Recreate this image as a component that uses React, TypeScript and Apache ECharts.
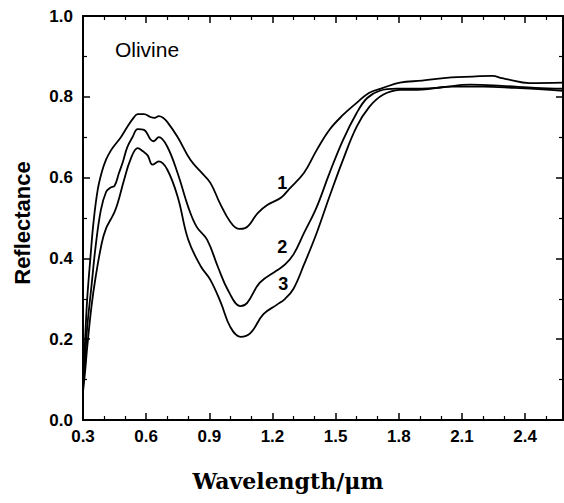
import React, { useEffect, useRef } from "react";
import * as echarts from "echarts";

// Curve 1 (top)
const wl1 = [0.30, 0.31, 0.32, 0.335, 0.35, 0.37, 0.39, 0.41, 0.43, 0.45, 0.48, 0.51, 0.54, 0.56, 0.59, 0.62, 0.64, 0.66, 0.68, 0.70, 0.75, 0.81, 0.86, 0.905, 0.95, 1.00, 1.04, 1.07, 1.13, 1.175, 1.24, 1.28, 1.35, 1.41, 1.47, 1.535, 1.60, 1.66, 1.725, 1.805, 1.91, 2.05, 2.15, 2.245, 2.29, 2.31, 2.42, 2.58];
const refl1 = [0.09, 0.20, 0.30, 0.40, 0.49, 0.57, 0.615, 0.645, 0.665, 0.68, 0.70, 0.725, 0.748, 0.757, 0.757, 0.75, 0.748, 0.752, 0.748, 0.738, 0.70, 0.644, 0.614, 0.587, 0.537, 0.49, 0.473, 0.475, 0.512, 0.532, 0.55, 0.572, 0.612, 0.668, 0.718, 0.755, 0.785, 0.81, 0.822, 0.835, 0.84, 0.848, 0.85, 0.852, 0.846, 0.844, 0.834, 0.835];

// Curve 2
const wl2 = [0.30, 0.31, 0.32, 0.34, 0.36, 0.385, 0.41, 0.43, 0.45, 0.47, 0.49, 0.51, 0.535, 0.56, 0.59, 0.62, 0.635, 0.66, 0.70, 0.75, 0.80, 0.84, 0.89, 0.94, 0.99, 1.048, 1.08, 1.14, 1.22, 1.26, 1.30, 1.35, 1.41, 1.47, 1.535, 1.60, 1.65, 1.71, 1.79, 1.91, 2.00, 2.14, 2.29, 2.45, 2.58];
const refl2 = [0.08, 0.15, 0.23, 0.33, 0.43, 0.52, 0.565, 0.575, 0.58, 0.61, 0.64, 0.675, 0.70, 0.72, 0.718, 0.695, 0.69, 0.70, 0.677, 0.61, 0.527, 0.478, 0.446, 0.38, 0.32, 0.282, 0.29, 0.34, 0.37, 0.385, 0.41, 0.463, 0.527, 0.61, 0.693, 0.76, 0.797, 0.815, 0.82, 0.82, 0.823, 0.83, 0.827, 0.822, 0.82];

// Curve 3 (bottom)
const wl3 = [0.30, 0.31, 0.32, 0.34, 0.36, 0.39, 0.41, 0.43, 0.45, 0.465, 0.495, 0.525, 0.56, 0.585, 0.607, 0.63, 0.66, 0.70, 0.75, 0.80, 0.86, 0.905, 0.955, 1.00, 1.048, 1.095, 1.157, 1.22, 1.26, 1.30, 1.35, 1.41, 1.47, 1.535, 1.60, 1.66, 1.725, 1.805, 1.91, 2.05, 2.20, 2.35, 2.50, 2.58];
const refl3 = [0.07, 0.12, 0.18, 0.28, 0.354, 0.44, 0.475, 0.495, 0.515, 0.537, 0.594, 0.644, 0.673, 0.665, 0.655, 0.632, 0.64, 0.62, 0.552, 0.446, 0.38, 0.347, 0.29, 0.23, 0.206, 0.215, 0.262, 0.285, 0.30, 0.325, 0.385, 0.463, 0.552, 0.644, 0.726, 0.775, 0.805, 0.817, 0.818, 0.825, 0.825, 0.822, 0.818, 0.815];

// Curve number labels
const curveNames = ["1", "2", "3"];
const labelWl = [1.246, 1.246, 1.251];
const labelRefl = [0.587, 0.428, 0.337];

const xTickStep = 0.3;
const yTickStep = 0.2;

const pairs = (xs: number[], ys: number[]) => xs.map((x, i) => [x, ys[i]]);

export default function App() {
  const ref = useRef<HTMLDivElement>(null);
  useEffect(() => {
    if (!ref.current) return;
    const chart = echarts.init(ref.current, null, { renderer: "svg" });
    const tickFont = {
      color: "#000",
      fontFamily: "Liberation Sans, Arial, sans-serif",
      fontWeight: "bold" as const,
      fontSize: 17,
    };
    const axisLine = { show: true, onZero: false, lineStyle: { color: "#000", width: 2 } };
    const xBase = {
      type: "value" as const,
      min: 0.3,
      max: 2.58,
      interval: xTickStep,
      axisLine,
      axisTick: { show: true, inside: true, length: 7, lineStyle: { color: "#000", width: 1.5 } },
      minorTick: { show: true, splitNumber: 3, length: 4, lineStyle: { color: "#000", width: 1.2 } },
      splitLine: { show: false },
      minorSplitLine: { show: false },
    };
    const yBase = {
      type: "value" as const,
      min: 0,
      max: 1,
      interval: yTickStep,
      axisLine,
      axisTick: { show: true, inside: true, length: 7, lineStyle: { color: "#000", width: 1.5 } },
      minorTick: { show: true, splitNumber: 2, length: 4, lineStyle: { color: "#000", width: 1.2 } },
      splitLine: { show: false },
      minorSplitLine: { show: false },
    };
    const lineSeries = (name: string, xs: number[], ys: number[]) => ({
      type: "line" as const,
      name,
      data: pairs(xs, ys),
      showSymbol: false,
      smooth: 0.4,
      lineStyle: { color: "#000", width: 1.8 },
      xAxisIndex: 0,
      yAxisIndex: 0,
    });
    chart.setOption({
      animation: false,
      backgroundColor: "#fff",
      grid: { left: 83, right: 1, top: 16, bottom: 83, containLabel: false },
      xAxis: [
        {
          ...xBase,
          position: "bottom",
          axisLabel: {
            ...tickFont,
            margin: 8,
            showMaxLabel: false,
            formatter: (v: number) => v.toFixed(1),
          },
        },
        { ...xBase, position: "top", axisLabel: { show: false } },
      ],
      yAxis: [
        {
          ...yBase,
          position: "left",
          axisLabel: { ...tickFont, margin: 10, formatter: (v: number) => v.toFixed(1) },
        },
        { ...yBase, position: "right", axisLabel: { show: false } },
      ],
      series: [
        lineSeries("1", wl1, refl1),
        lineSeries("2", wl2, refl2),
        lineSeries("3", wl3, refl3),
      ],
      graphic: [
        {
          type: "text",
          x: 147,
          y: 49,
          style: {
            text: "Olivine",
            fill: "#000",
            font: "500 21px 'Liberation Sans', Arial, sans-serif",
            textAlign: "center",
            textVerticalAlign: "middle",
          },
        },
        {
          type: "text",
          x: 22,
          y: 223,
          rotation: Math.PI / 2,
          style: {
            text: "Reflectance",
            fill: "#000",
            font: "bold 22px 'Liberation Sans', Arial, sans-serif",
            textAlign: "center",
            textVerticalAlign: "middle",
          },
        },
        {
          type: "text",
          x: 288,
          y: 481,
          style: {
            text: "Wavelength/μm",
            fill: "#000",
            font: "bold 22px 'DejaVu Serif', serif",
            textAlign: "center",
            textVerticalAlign: "middle",
          },
        },
      ],
    });
    // Curve number labels placed via the chart's own coordinate conversion
    const labelGraphics = curveNames.map((n, i) => {
      const p = chart.convertToPixel({ gridIndex: 0 }, [labelWl[i], labelRefl[i]]) as number[];
      return {
        type: "text",
        id: "curve-label-" + n,
        x: p[0],
        y: p[1],
        style: {
          text: n,
          fill: "#000",
          font: "bold 18px 'Liberation Sans', Arial, sans-serif",
          textAlign: "center",
          textVerticalAlign: "middle",
        },
      };
    });
    chart.setOption({ graphic: labelGraphics });
    return () => chart.dispose();
  }, []);
  return (
    <div
      ref={ref}
      style={{ position: "fixed", left: 0, top: 0, width: 564, height: 503, background: "#fff" }}
    />
  );
}
